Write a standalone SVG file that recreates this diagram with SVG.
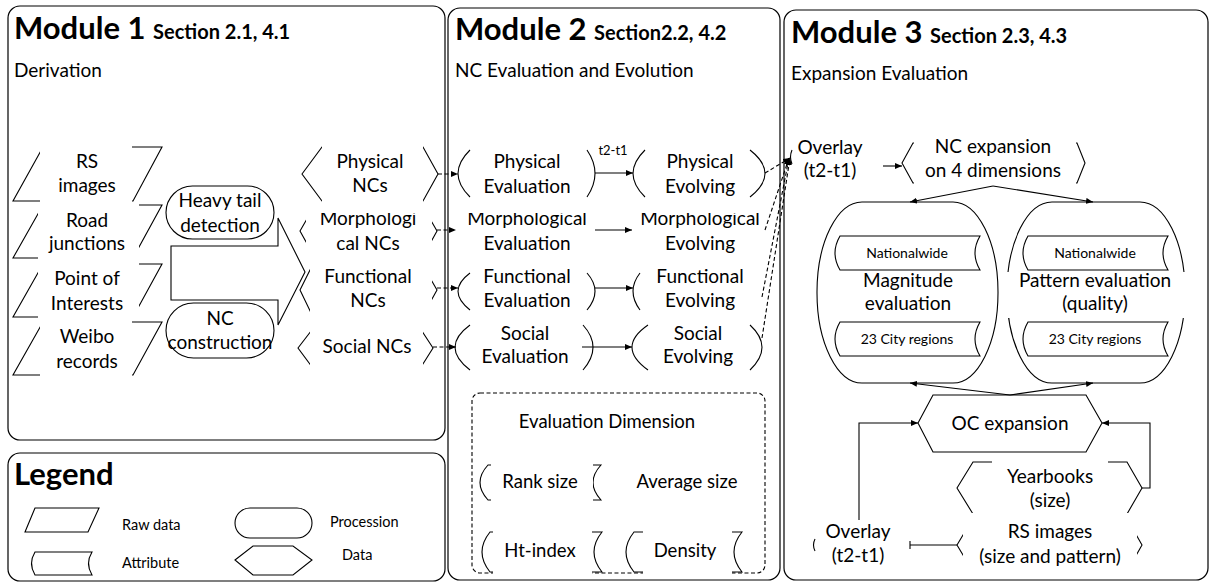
<svg xmlns="http://www.w3.org/2000/svg" width="1212" height="583" viewBox="0 0 1212 583">
<style>
.panel{fill:#fff;stroke:#000;stroke-width:1.2}
.s{fill:#fff;stroke:#000;stroke-width:1.1}
.o{fill:none;stroke:#000;stroke-width:1.1}
.wb{fill:#fff;stroke:none}
.t{font-family:Lato,"Open Sans",sans-serif;font-size:19px;fill:#000;text-anchor:middle}
.sub{font-family:Lato,"Open Sans",sans-serif;font-size:19px;fill:#000}
.h{font-family:Lato,"Open Sans",sans-serif;font-weight:bold;fill:#000}
.m{font-size:19px}
.sm{font-size:14px}
.f13{font-size:13px}
.f14{font-size:14.5px}
.f17{font-size:18.5px}
.c{fill:none;stroke:#000;stroke-width:1.1}
.d{stroke-dasharray:4,2.5}
</style>
<defs>
<marker id="ah" markerWidth="7" markerHeight="6" refX="7" refY="3" orient="auto" markerUnits="userSpaceOnUse"><path d="M0,0 L7,3 L0,6 Z" fill="#000"/></marker>
<clipPath id="cm1"><rect x="300" y="213" width="140" height="60"/></clipPath>
<clipPath id="cm2"><rect x="460" y="213" width="300" height="60"/></clipPath>
</defs>

<g id="panels">
<rect class="panel" x="8" y="6" width="437" height="434" rx="12"/>
<rect class="panel" x="448" y="8" width="332" height="572" rx="12"/>
<rect class="panel" x="784" y="10" width="424" height="570" rx="12"/>
<rect class="panel" x="8" y="453" width="437" height="128" rx="12"/>
</g>

<g id="titles">
<text class="h" x="14" y="39"><tspan font-size="31">Module 1 </tspan><tspan font-size="20">Section 2.1, 4.1</tspan></text>
<text class="sub" x="14" y="77">Derivation</text>
<text class="h" x="455" y="40"><tspan font-size="31">Module 2 </tspan><tspan font-size="20">Section2.2, 4.2</tspan></text>
<text class="sub" x="455" y="77">NC Evaluation and Evolution</text>
<text class="h" x="791" y="43"><tspan font-size="31">Module 3 </tspan><tspan font-size="20">Section 2.3, 4.3</tspan></text>
<text class="sub" x="791" y="80">Expansion Evaluation</text>
<text class="h" x="14" y="485" font-size="31">Legend</text>
</g>

<!-- Module 1 raw data -->
<g id="rs-images">
<polygon class="s" points="43,147 162,147 133,201 13,201"/>
<rect class="wb" x="40" y="145" width="92" height="58"/>
<text class="t" x="87" y="168">RS</text><text class="t" x="87" y="192">images</text>
</g>
<g id="road-junctions">
<polygon class="s" points="43,205 162,205 133,258 13,258"/>
<rect class="wb" x="38" y="203" width="101" height="57"/>
<text class="t" x="87" y="227">Road</text><text class="t" x="87" y="250">junctions</text>
</g>
<g id="poi">
<polygon class="s" points="43,264 162,264 133,317 13,317"/>
<rect class="wb" x="38" y="262" width="101" height="57"/>
<text class="t" x="87" y="285">Point of</text><text class="t" x="87" y="310">Interests</text>
</g>
<g id="weibo">
<polygon class="s" points="43,322 162,322 133,375 13,375"/>
<rect class="wb" x="40" y="320" width="92" height="58"/>
<text class="t" x="87" y="343">Weibo</text><text class="t" x="87" y="368">records</text>
</g>

<g id="block-arrow">
<polygon class="s" points="171,246 278,246 278,218 305,272 278,325 278,300 171,300"/>
</g>
<g id="heavy-tail">
<rect class="s" x="166" y="186" width="108" height="53" rx="26.5"/>
<text class="t" x="220" y="207">Heavy tail</text><text class="t" x="220" y="232">detection</text>
</g>
<g id="nc-construction">
<rect class="s" x="166" y="303" width="108" height="55" rx="27.5"/>
<text class="t" x="220" y="325">NC</text><text class="t" x="220" y="349">construction</text>
</g>

<g id="physical-ncs">
<polygon class="s" points="302,174 322,147 423,147 438,174 423,201 322,201"/>
<rect class="wb" x="322" y="145" width="101" height="58"/>
<text class="t" x="370" y="168">Physical</text><text class="t" x="370" y="192">NCs</text>
</g>
<g id="morph-ncs">
<polygon class="s" points="300,231 315,205 422,205 437,231 422,258 315,258"/>
<rect class="wb" x="306" y="203" width="126" height="57"/>
<text class="t" x="368" y="225" clip-path="url(#cm1)">Morphologi</text><text class="t" x="368" y="250">cal NCs</text>
</g>
<g id="functional-ncs">
<polygon class="s" points="300,290 313,264 422,264 437,290 422,317 313,317"/>
<rect class="wb" x="310" y="262" width="122" height="57"/>
<text class="t" x="368" y="283">Functional</text><text class="t" x="368" y="307">NCs</text>
</g>
<g id="social-ncs">
<polygon class="s" points="298,348 318,322 416,322 433,348 416,375 318,375"/>
<rect class="wb" x="310" y="320" width="113" height="57"/>
<text class="t" x="367" y="353">Social NCs</text>
</g>

<!-- Module 2 -->
<g id="physical-eval">
<path class="o" d="M470,150 Q446,173.5 470,197 M587,150 Q603,173.5 587,197"/>
<text class="t" x="527" y="168">Physical</text><text class="t" x="527" y="193">Evaluation</text>
</g>
<g id="physical-evol">
<path class="o" d="M645,150 Q621,173.5 645,197 M750,150 Q780,173.5 750,197"/>
<text class="t" x="700" y="168">Physical</text><text class="t" x="700" y="193">Evolving</text>
</g>
<g id="morph-eval">
<text class="t" x="527" y="225" clip-path="url(#cm2)">Morphological</text><text class="t" x="527" y="250">Evaluation</text>
</g>
<g id="morph-evol">
<text class="t" x="700" y="225" clip-path="url(#cm2)">Morphological</text><text class="t" x="700" y="250">Evolving</text>
</g>
<g id="func-eval">
<path class="o" d="M470,273 Q446,291 470,310 M587,273 Q603,291 587,310"/>
<text class="t" x="527" y="283">Functional</text><text class="t" x="527" y="307">Evaluation</text>
</g>
<g id="func-evol">
<path class="o" d="M640,273 Q626,291 640,310"/>
<text class="t" x="700" y="283">Functional</text><text class="t" x="700" y="307">Evolving</text>
</g>
<g id="social-eval">
<path class="o" d="M470,325 Q440,347 470,370 M583,325 Q603,347 583,370"/>
<text class="t" x="525" y="340">Social</text><text class="t" x="525" y="363">Evaluation</text>
</g>
<g id="social-evol">
<path class="o" d="M648,325 Q616,347 648,370 M750,325 Q774,347 750,370"/>
<text class="t" x="698" y="340">Social</text><text class="t" x="698" y="363">Evolving</text>
</g>

<g id="eval-dimension">
<rect class="o d" x="472" y="393" width="293" height="180" rx="8"/>
<text class="t f17" x="607" y="428">Evaluation Dimension</text>
</g>
<g id="rank-size">
<path class="s" d="M488,465 H601 Q585,482.5 601,500 H488 Q472,482.5 488,465 Z"/>
<rect class="wb" x="491" y="463" width="102" height="39"/>
<text class="t f17" x="540" y="488">Rank size</text>
</g>
<g id="average-size">
<text class="t f17" x="687" y="488">Average size</text>
</g>
<g id="ht-index">
<path class="s" d="M490,532 H602 Q586,552 602,572 H490 Q474,552 490,532 Z"/>
<rect class="wb" x="493" y="530" width="99" height="45"/>
<text class="t f17" x="540" y="557">Ht-index</text>
</g>
<g id="density">
<path class="s" d="M634,532 H742 Q726,552 742,572 H634 Q618,552 634,532 Z"/>
<rect class="wb" x="643" y="530" width="89" height="45"/>
<text class="t f17" x="685" y="557">Density</text>
</g>

<!-- Module 3 -->
<g id="overlay-top">
<path class="o" d="M792,150 Q789,157 792,164"/>
<text class="t" x="830" y="154">Overlay</text><text class="t" x="830" y="177">(t2-t1)</text>
</g>
<g id="nc-expansion">
<polygon class="s" points="902,163 913,143 1077,143 1085,163 1077,183 913,183"/>
<rect class="wb" x="914" y="141" width="162" height="44"/>
<text class="t" x="993" y="153">NC expansion</text><text class="t" x="993" y="177">on 4 dimensions</text>
</g>
<g id="magnitude">
<rect class="s" x="817" y="202" width="181" height="181" rx="45" ry="90"/>
<path class="s" d="M840,236 H980 Q970,253 980,270 H840 Q830,253 840,236 Z"/>
<text class="t sm" x="907" y="258">Nationalwide</text>
<text class="t m" x="908" y="287">Magnitude</text><text class="t m" x="908" y="310">evaluation</text>
<path class="s" d="M840,322 H980 Q970,339 980,356 H840 Q830,339 840,322 Z"/>
<text class="t sm" x="907" y="344">23 City regions</text>
</g>
<g id="pattern">
<rect class="s" x="1007" y="202" width="178" height="181" rx="45" ry="90"/>
<rect class="wb" x="1004" y="272" width="184" height="46"/>
<path class="s" d="M1028,236 H1168 Q1158,253 1168,270 H1028 Q1018,253 1028,236 Z"/>
<text class="t sm" x="1095" y="258">Nationalwide</text>
<text class="t m" x="1095" y="287">Pattern evaluation</text><text class="t m" x="1095" y="310">(quality)</text>
<path class="s" d="M1028,322 H1168 Q1158,339 1168,356 H1028 Q1018,339 1028,322 Z"/>
<text class="t sm" x="1095" y="344">23 City regions</text>
</g>
<g id="oc-expansion">
<polygon class="s" points="918,423 933,395 1086,395 1102,423 1086,452 933,452"/>
<text class="t m" x="1010" y="430">OC expansion</text>
</g>
<g id="yearbooks">
<polygon class="s" points="957,488 973,462 1127,462 1142,488 1127,514 973,514"/>
<rect class="wb" x="992" y="460" width="116" height="30"/>
<text class="t" x="1050" y="483">Yearbooks</text><text class="t" x="1050" y="507">(size)</text>
</g>
<g id="rs-images-3">
<polygon class="s" points="957,545 975,515 1125,515 1142,545 1125,575 975,575"/>
<rect class="wb" x="963" y="513" width="174" height="64"/>
<text class="t" x="1050" y="538">RS images</text><text class="t" x="1050" y="563">(size and pattern)</text>
</g>
<g id="overlay-bottom">
<path class="o" d="M815,539 Q812,545 815,551"/>
<text class="t" x="858" y="538">Overlay</text><text class="t" x="858" y="562">(t2-t1)</text>
</g>

<!-- Legend -->
<g id="legend-items">
<polygon class="s" points="35,508 99,508 88,532 25,532"/>
<text class="sub f14" x="122" y="530">Raw data</text>
<path class="s" d="M35,552 H92 Q85,563.5 92,575 H35 Q28,563.5 35,552 Z"/>
<text class="sub f14" x="122" y="568">Attribute</text>
<rect class="s" x="235" y="508" width="77" height="30" rx="15"/>
<text class="sub f14" x="330" y="527">Procession</text>
<polygon class="s" points="235,560 253,546 293,546 312,560 293,575 253,575"/>
<text class="sub f14" x="342" y="560">Data</text>
</g>

<g id="connectors">
<line class="c d" x1="438" y1="174" x2="458" y2="174" marker-end="url(#ah)"/>
<line class="c d" x1="437" y1="230" x2="456" y2="230" marker-end="url(#ah)"/>
<line class="c d" x1="437" y1="288" x2="458" y2="288" marker-end="url(#ah)"/>
<line class="c d" x1="433" y1="347" x2="456" y2="347" marker-end="url(#ah)"/>
<line class="c" x1="595" y1="173" x2="633" y2="173" marker-end="url(#ah)"/>
<text class="t f13" x="613" y="155">t2-t1</text>
<line class="c" x1="595" y1="230" x2="632" y2="230" marker-end="url(#ah)"/>
<line class="c" x1="595" y1="288" x2="633" y2="288" marker-end="url(#ah)"/>
<line class="c" x1="582" y1="347" x2="632" y2="347" marker-end="url(#ah)"/>
<line class="c d" x1="765" y1="173" x2="790" y2="158" marker-end="url(#ah)"/>
<line class="c d" x1="765" y1="230" x2="789" y2="158" marker-end="url(#ah)"/>
<line class="c d" x1="762" y1="297" x2="789" y2="158" marker-end="url(#ah)"/>
<line class="c d" x1="762" y1="338" x2="790" y2="158" marker-end="url(#ah)"/>
<line class="c" x1="883" y1="166" x2="902" y2="166" marker-end="url(#ah)"/>
<line class="c" x1="993" y1="186" x2="910" y2="202" marker-end="url(#ah)"/>
<line class="c" x1="993" y1="186" x2="1093" y2="202" marker-end="url(#ah)"/>
<line class="c" x1="1010" y1="395" x2="910" y2="383" marker-end="url(#ah)"/>
<line class="c" x1="1010" y1="395" x2="1093" y2="383" marker-end="url(#ah)"/>
<polyline class="c" points="859,520 859,423 918,423" marker-end="url(#ah)"/>
<polyline class="c" points="1142,488 1150,488 1150,423 1102,423" marker-end="url(#ah)"/>
<line class="c" x1="910" y1="545" x2="957" y2="545"/>
<line class="c" x1="910" y1="541" x2="910" y2="549"/>
</g>
</svg>
